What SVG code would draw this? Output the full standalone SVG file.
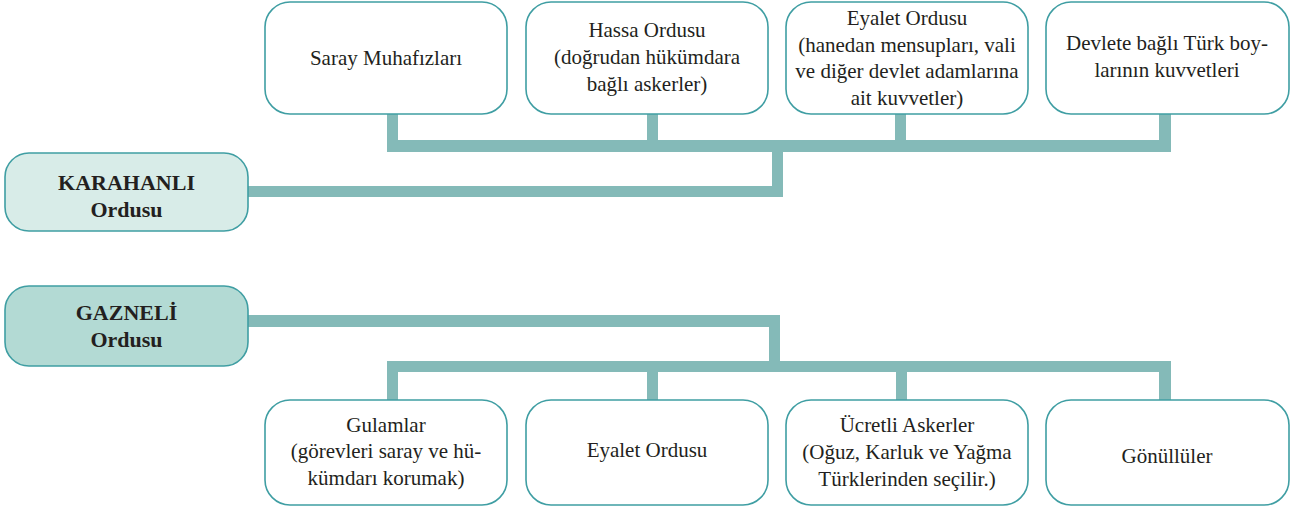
<svg xmlns="http://www.w3.org/2000/svg" width="1294" height="509" viewBox="0 0 1294 509">
<style>
.box{fill:#ffffff;stroke:#3f9ea3;stroke-width:1.6}
.k{fill:#d8ece8}
.g{fill:#b3dad4}
.t{font-size:21px;fill:#231f20;text-anchor:middle}
.b{font-weight:bold;font-size:22px}
.c{fill:#84bab8}
</style>
<rect width="1294" height="509" fill="#ffffff"/>
<g id="connectors">
<rect class="c" x="387" y="140" width="784" height="12"/>
<rect class="c" x="387" y="113" width="11" height="33"/>
<rect class="c" x="647" y="113" width="11" height="33"/>
<rect class="c" x="895" y="113" width="11" height="33"/>
<rect class="c" x="1159" y="113" width="12" height="33"/>
<rect class="c" x="772" y="146" width="11" height="51"/>
<rect class="c" x="247" y="186" width="536" height="11"/>
<rect class="c" x="247" y="315" width="533" height="12"/>
<rect class="c" x="769" y="315" width="11" height="57"/>
<rect class="c" x="387" y="361" width="784" height="11"/>
<rect class="c" x="387" y="366" width="11" height="35"/>
<rect class="c" x="647" y="366" width="11" height="35"/>
<rect class="c" x="896" y="366" width="11" height="35"/>
<rect class="c" x="1159" y="366" width="12" height="35"/>
</g>
<g font-family="Liberation Serif, Times New Roman, Tinos, DejaVu Serif, Noto Serif, serif">
<g id="karahanli">
<rect class="box k" x="5" y="153" width="243" height="78" rx="24"/>
<text class="t b" x="126.5" y="189.5">KARAHANLI</text>
<text class="t b" x="126.5" y="217">Ordusu</text>
</g>
<g id="gazneli">
<rect class="box g" x="5" y="286" width="243" height="80" rx="24"/>
<text class="t b" x="126.5" y="319.5">GAZNELİ</text>
<text class="t b" x="126.5" y="347">Ordusu</text>
</g>
<g id="saray">
<rect class="box" x="265" y="2" width="242" height="112" rx="25"/>
<text class="t" x="386" y="65">Saray Muhafızları</text>
</g>
<g id="hassa">
<rect class="box" x="526" y="2" width="242" height="112" rx="25"/>
<text class="t" x="647" y="37">Hassa Ordusu</text>
<text class="t" x="647" y="64">(doğrudan hükümdara</text>
<text class="t" x="647" y="91">bağlı askerler)</text>
</g>
<g id="eyalet1">
<rect class="box" x="786" y="2" width="242" height="112" rx="25"/>
<text class="t" x="907" y="25">Eyalet Ordusu</text>
<text class="t" x="907" y="52">(hanedan mensupları, vali</text>
<text class="t" x="907" y="78">ve diğer devlet adamlarına</text>
<text class="t" x="907" y="105">ait kuvvetler)</text>
</g>
<g id="devlete">
<rect class="box" x="1046" y="2" width="243" height="112" rx="25"/>
<text class="t" x="1167" y="50">Devlete bağlı Türk boy-</text>
<text class="t" x="1167" y="77">larının kuvvetleri</text>
</g>
<g id="gulamlar">
<rect class="box" x="265" y="400" width="242" height="105" rx="25"/>
<text class="t" x="386" y="432">Gulamlar</text>
<text class="t" x="386" y="458">(görevleri saray ve hü-</text>
<text class="t" x="386" y="485">kümdarı korumak)</text>
</g>
<g id="eyalet2">
<rect class="box" x="526" y="400" width="242" height="105" rx="25"/>
<text class="t" x="647" y="457">Eyalet Ordusu</text>
</g>
<g id="ucretli">
<rect class="box" x="786" y="400" width="242" height="105" rx="25"/>
<text class="t" x="907" y="432">Ücretli Askerler</text>
<text class="t" x="907" y="459">(Oğuz, Karluk ve Yağma</text>
<text class="t" x="907" y="486">Türklerinden seçilir.)</text>
</g>
<g id="gonulluler">
<rect class="box" x="1046" y="400" width="243" height="105" rx="25"/>
<text class="t" x="1167" y="463">Gönüllüler</text>
</g>
</g>
</svg>
